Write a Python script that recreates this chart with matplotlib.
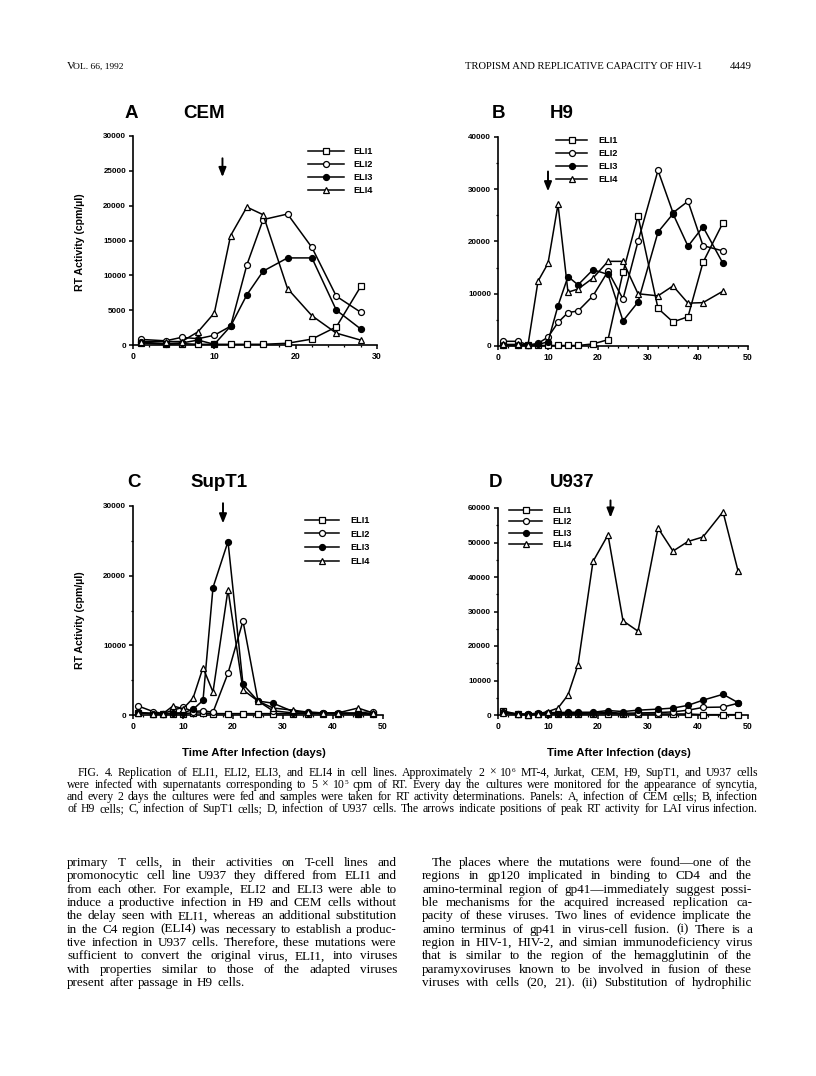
import matplotlib
matplotlib.use('Agg')
import matplotlib.pyplot as plt
from matplotlib.ticker import MultipleLocator

# sampling days (same schedule in every panel)
days = [1, 4, 6, 8, 10, 12, 14, 16, 19, 22, 25, 28, 32, 35, 38, 41, 45, 48]
series = ['ELI1', 'ELI2', 'ELI3', 'ELI4']

# A  CEM (to day 28)
cem_eli1 = [300, 100, 200, 100, 100, 100, 100, 100, 250, 850, 2600, 8400]
cem_eli2 = [800, 600, 1100, 900, 1400, 2700, 11500, 18000, 18800, 14000, 7000, 4700]
cem_eli3 = [400, 200, 300, 700, 100, 2700, 7200, 10600, 12500, 12500, 5000, 2300]
cem_eli4 = [500, 500, 500, 1900, 4600, 15700, 19800, 18700, 8100, 4200, 1700, 700]

# B  H9 (to day 45)
h9_eli1 = [100, 100, 100, 100, 100, 100, 100, 100, 400, 1200, 14100, 24900, 7200, 4600, 5600, 16000, 23600]
h9_eli2 = [900, 900, 200, 500, 1700, 4500, 6400, 6700, 9600, 14300, 9000, 20000, 33600, 25500, 27700, 19200, 18200]
h9_eli3 = [200, 200, 100, 300, 800, 7700, 13300, 11700, 14600, 13700, 4800, 8400, 21800, 25300, 19100, 22800, 15800]
h9_eli4 = [300, 300, 200, 12400, 15800, 27100, 10300, 10900, 13000, 16200, 16200, 10000, 9600, 11500, 8200, 8300, 10500]

# C  SupT1
supt1_eli1 = [300, 200, 200, 200, 200, 300, 300, 200, 200, 200, 200, 200, 200, 200, 200, 200, 200, 200]
supt1_eli2 = [1300, 500, 200, 700, 1100, 500, 600, 400, 6000, 13500, 2000, 600, 300, 300, 300, 300, 300, 500]
supt1_eli3 = [400, 200, 100, 300, 300, 800, 2100, 18300, 24900, 4400, 2000, 1700, 500, 400, 300, 200, 200, 100]
supt1_eli4 = [300, 200, 200, 1300, 900, 2400, 6800, 3300, 18000, 3600, 2000, 1000, 700, 400, 300, 300, 1000, 300]

# D  U937
u937_eli1 = [1200, 200, 100, 200, 300, 300, 300, 300, 300, 400, 300, 300, 300, 300, 300, 100, 100, 100]
u937_eli2 = [800, 300, 200, 400, 500, 500, 500, 500, 600, 800, 500, 600, 700, 900, 1400, 2200, 2300, 3400]
u937_eli3 = [500, 300, 200, 600, 700, 700, 800, 800, 800, 1300, 1000, 1400, 1700, 2000, 2800, 4300, 6000, 3600]
u937_eli4 = [500, 300, 100, 300, 1000, 2000, 5800, 14500, 44500, 52200, 27300, 24300, 54200, 47500, 50300, 51600, 58900, 41800]

# day of peak RT activity for LAI (arrows)
lai_peak = [11, 10, 18, 22.5]

W, H = 816, 1076
fig = plt.figure(figsize=(8.16, 10.76), dpi=100)


def fx(x):
    return x / W


def fy(y):
    return 1 - y / H


SANS = 'Liberation Sans'
SERIF = 'Liberation Serif'

styles = {
    'ELI1': dict(marker='s', mfc='white'),
    'ELI2': dict(marker='o', mfc='white'),
    'ELI3': dict(marker='o', mfc='black'),
    'ELI4': dict(marker='^', mfc='white'),
}

panels = [
    dict(box=(133, 136, 377, 345), xmax=30, ymax=30000, ystep=5000, yminor=None,
         data=[cem_eli1, cem_eli2, cem_eli3, cem_eli4], letter=('A', 125, 118), name=('CEM', 183, 118),
         leg=(308, 147, 3.9, 1.1, 12.7), arrow=(26800, 24100), ylabel=242),
    dict(box=(498, 137, 748, 346), xmax=50, ymax=40000, ystep=10000, yminor=5000,
         data=[h9_eli1, h9_eli2, h9_eli3, h9_eli4], letter=('B', 492, 118), name=('H9', 550, 118),
         leg=(556, 136, 3.4, 1.2, 12.7), arrow=(33400, 29600), ylabel=None),
    dict(box=(133, 506, 383, 715), xmax=50, ymax=30000, ystep=10000, yminor=5000,
         data=[supt1_eli1, supt1_eli2, supt1_eli3, supt1_eli4], letter=('C', 127, 487), name=('SupT1', 190, 487),
         leg=(305, 516, 3.7, 1.3, 13.3), arrow=(30400, 27500), ylabel=620),
    dict(box=(498, 508, 748, 715), xmax=50, ymax=60000, ystep=10000, yminor=5000,
         data=[u937_eli1, u937_eli2, u937_eli3, u937_eli4], letter=('D', 489, 487), name=('U937', 550, 487),
         leg=(509, 506, 3.6, 1.1, 11.2), arrow=(62200, 57200), ylabel=None),
]

for i, p in enumerate(panels):
    x0, y0, x1, y1 = p['box']
    ax = fig.add_axes([fx(x0), fy(y1), (x1 - x0) / W, (y1 - y0) / H])
    handles = []
    for name, vals in zip(series, p['data']):
        st = styles[name]
        ln, = ax.plot(days[:len(vals)], vals, color='black', lw=1.1, marker=st['marker'],
                      mfc=st['mfc'], mec='black', mew=0.9, ms=4.3, clip_on=False, zorder=3)
        handles.append(ln)
    ax.set_xlim(0, p['xmax'])
    ax.set_ylim(0, p['ymax'])
    ax.yaxis.set_major_locator(MultipleLocator(p['ystep']))
    if p['yminor']:
        ax.yaxis.set_minor_locator(MultipleLocator(p['yminor']))
    ax.xaxis.set_major_locator(MultipleLocator(10))
    ax.xaxis.set_minor_locator(MultipleLocator(2))
    for s in ['top', 'right']:
        ax.spines[s].set_visible(False)
    for s in ['left', 'bottom']:
        ax.spines[s].set_linewidth(1.2)
    ax.tick_params(which='major', direction='out', length=3, width=1.1, pad=2)
    ax.tick_params(which='minor', direction='out', length=1.6, width=0.9)
    for lab in ax.get_yticklabels():
        lab.set_fontfamily(SANS)
        lab.set_fontweight('bold')
        lab.set_fontsize(5.8)
    for lab in ax.get_xticklabels():
        lab.set_fontfamily(SANS)
        lab.set_fontweight('bold')
        lab.set_fontsize(6.3)

    lx, ltop, hl, hp, rowh = p['leg']
    fs = 6.6
    ax.legend(handles, series, loc='upper left', bbox_to_anchor=(fx(lx), fy(ltop)),
              bbox_transform=fig.transFigure, frameon=False, borderpad=0, borderaxespad=0,
              handlelength=hl, handletextpad=hp, labelspacing=(rowh - fs * 100 / 72 * 0.95) / (fs * 100 / 72),
              prop=dict(family=SANS, weight='bold', size=fs))

    top, tip = p['arrow']
    ax.annotate('', xy=(lai_peak[i], tip), xytext=(lai_peak[i], top), annotation_clip=False,
                arrowprops=dict(arrowstyle='-|>,head_length=0.55,head_width=0.22', color='black',
                                lw=1.4, shrinkA=0, shrinkB=0))

    letter, lxp, lyp = p['letter']
    fig.text(fx(lxp), fy(lyp), letter, family=SANS, weight='bold', fontsize=13.5, va='baseline')
    name, nxp, nyp = p['name']
    fig.text(fx(nxp), fy(nyp), name, family=SANS, weight='bold', fontsize=13.5, va='baseline')

    if p['ylabel']:
        fig.text(fx(80), fy(p['ylabel']), 'RT Activity (cpm/µl)', family=SANS, weight='bold',
                 fontsize=7.6, rotation=90, ha='center', va='center')
    if i >= 2:
        fig.text(fx((x0 + x1) / 2 - 4), fy(753), 'Time After Infection (days)', family=SANS,
                 weight='bold', fontsize=8.2, ha='center', va='center')

renderer = fig.canvas.get_renderer()
MIN_SPACE = 0.32  # minimum word gap, in em
SUP = 0.62        # superscript size ratio


def text_width(w, size, family):
    t = fig.text(0, 0, w, fontsize=size, family=family)
    wd = t.get_window_extent(renderer).width
    t.remove()
    return wd


def word_width(w, size, family):
    # words like "10^6" carry a superscript
    if '^' in w:
        base, sup = w.split('^')
        return text_width(base, size, family) + text_width(sup, size * SUP, family)
    return text_width(w, size, family)


def draw_word(w, x, y, size, family):
    if '^' in w:
        base, sup = w.split('^')
        fig.text(fx(x), fy(y), base, fontsize=size, family=family, va='baseline')
        bx = x + text_width(base, size, family)
        fig.text(fx(bx), fy(y - size * 100 / 72 * 0.36), sup, fontsize=size * SUP,
                 family=family, va='baseline')
    else:
        fig.text(fx(x), fy(y), w, fontsize=size, family=family, va='baseline')


def natural_width(text, size, family=SERIF):
    words = text.split()
    return sum(word_width(w, size, family) for w in words) + (len(words) - 1) * MIN_SPACE * size * 100 / 72


def fit_size(lines, x0s, x1):
    # largest size at which every line fits with at least the minimum word gap
    ratios = [(x1 - a) / natural_width(t, 10) for t, a in zip(lines, x0s)]
    return 10 * min(ratios) * 0.99


def set_line(text, x0, x1, y, size, family=SERIF, justify=True):
    words = text.split()
    widths = [word_width(w, size, family) for w in words]
    space = size * 100 / 72 * MIN_SPACE
    if justify and len(words) > 1:
        space = (x1 - x0 - sum(widths)) / (len(words) - 1)
    x = x0
    for w, wd in zip(words, widths):
        draw_word(w, x, y, size, family)
        x += wd + space


# running head
fig.text(fx(67), fy(69), 'V', family=SERIF, fontsize=8, va='baseline')
fig.text(fx(73), fy(69), 'OL. 66, 1992', family=SERIF, fontsize=6.8, va='baseline')
fig.text(fx(702), fy(69), 'TROPISM AND REPLICATIVE CAPACITY OF HIV-1', family=SERIF, fontsize=7.6,
         ha='right', va='baseline')
fig.text(fx(752), fy(69), '4449', family=SERIF, fontsize=7.8, ha='right', va='baseline')

caption = [
    'FIG. 4. Replication of ELI1, ELI2, ELI3, and ELI4 in cell lines. Approximately 2 × 10^6 MT-4, Jurkat, CEM, H9, SupT1, and U937 cells',
    'were infected with supernatants corresponding to 5 × 10^5 cpm of RT. Every day the cultures were monitored for the appearance of syncytia,',
    'and every 2 days the cultures were fed and samples were taken for RT activity determinations. Panels: A, infection of CEM cells; B, infection',
    'of H9 cells; C, infection of SupT1 cells; D, infection of U937 cells. The arrows indicate positions of peak RT activity for LAI virus infection.',
]
cap_x0 = [78, 67, 67, 67]
cap_size = fit_size(caption, cap_x0, 758)
for k, line in enumerate(caption):
    set_line(line, cap_x0[k], 758, 776 + 12 * k, cap_size)

left_col = [
    'primary T cells, in their activities on T-cell lines and',
    'promonocytic cell line U937 they differed from ELI1 and',
    'from each other. For example, ELI2 and ELI3 were able to',
    'induce a productive infection in H9 and CEM cells without',
    'the delay seen with ELI1, whereas an additional substitution',
    'in the C4 region (ELI4) was necessary to establish a produc-',
    'tive infection in U937 cells. Therefore, these mutations were',
    'sufficient to convert the original virus, ELI1, into viruses',
    'with properties similar to those of the adapted viruses',
    'present after passage in H9 cells.',
]
right_col = [
    'The places where the mutations were found—one of the',
    'regions in gp120 implicated in binding to CD4 and the',
    'amino-terminal region of gp41—immediately suggest possi-',
    'ble mechanisms for the acquired increased replication ca-',
    'pacity of these viruses. Two lines of evidence implicate the',
    'amino terminus of gp41 in virus-cell fusion. (i) There is a',
    'region in HIV-1, HIV-2, and simian immunodeficiency virus',
    'that is similar to the region of the hemagglutinin of the',
    'paramyxoviruses known to be involved in fusion of these',
    'viruses with cells (20, 21). (ii) Substitution of hydrophilic',
]
right_x0 = [432] + [422] * (len(right_col) - 1)
body_size = min(fit_size(left_col, [67] * len(left_col), 397), fit_size(right_col, right_x0, 752))
for k, line in enumerate(left_col):
    set_line(line, 67, 397, 866 + 13.35 * k, body_size, justify=(k < len(left_col) - 1))
for k, line in enumerate(right_col):
    set_line(line, right_x0[k], 752, 866 + 13.35 * k, body_size)

fig.savefig('out.png', dpi=100)
